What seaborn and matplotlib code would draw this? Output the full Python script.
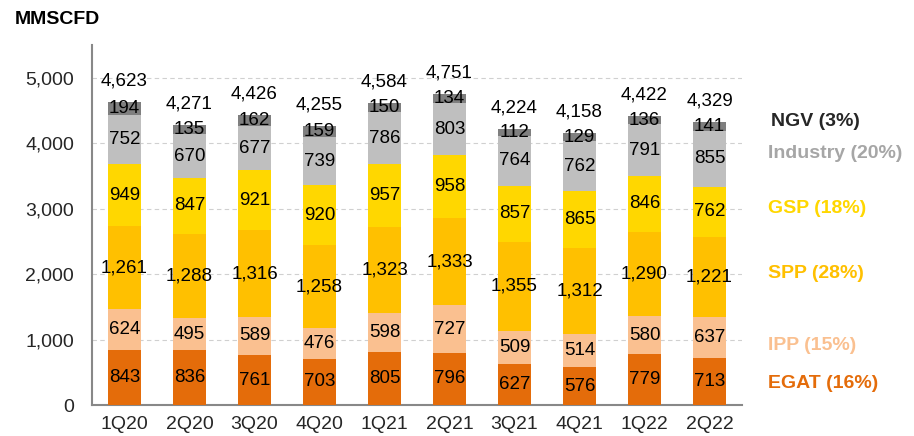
import numpy as np
import pandas as pd
import matplotlib
matplotlib.use("Agg")
import matplotlib.pyplot as plt
import seaborn as sns

quarters = ["1Q20", "2Q20", "3Q20", "4Q20", "1Q21", "2Q21", "3Q21", "4Q21", "1Q22", "2Q22"]
egat = [843, 836, 761, 703, 805, 796, 627, 576, 779, 713]
ipp = [624, 495, 589, 476, 598, 727, 509, 514, 580, 637]
spp = [1261, 1288, 1316, 1258, 1323, 1333, 1355, 1312, 1290, 1221]
gsp = [949, 847, 921, 920, 957, 958, 857, 865, 846, 762]
industry = [752, 670, 677, 739, 786, 803, 764, 762, 791, 855]
ngv = [194, 135, 162, 159, 150, 134, 112, 129, 136, 141]
totals = [4623, 4271, 4426, 4255, 4584, 4751, 4224, 4158, 4422, 4329]

series_names = ["EGAT", "IPP", "SPP", "GSP", "Industry", "NGV"]
series_vals = [egat, ipp, spp, gsp, industry, ngv]
legend_labels = ["EGAT (16%)", "IPP (15%)", "SPP (28%)", "GSP (18%)", "Industry (20%)", "NGV (3%)"]
colors = ["#E46C0A", "#FAC090", "#FFC000", "#FFD700", "#BFBFBF", "#7F7F7F"]
legend_colors = ["#E46C0A", "#FAC090", "#FFC000", "#FFD700", "#A6A6A6", "#262626"]

sns.set_theme(style="white")
plt.rcParams["font.family"] = ["Liberation Sans", "DejaVu Sans"]

fig = plt.figure(figsize=(9.14, 4.36), dpi=100)
ax = fig.add_axes([92 / 914, 31 / 436, 650 / 914, 360 / 436])

vals = np.array(series_vals, dtype=float)
cum = np.cumsum(vals, axis=0)

# draw cumulative bars from the top series down so they stack visually
for i in reversed(range(len(series_names))):
    df = pd.DataFrame({"quarter": quarters, "value": cum[i]})
    sns.barplot(data=df, x="quarter", y="value", order=quarters, color=colors[i],
                saturation=1, width=0.52, ax=ax, errorbar=None, zorder=3,
                linewidth=0, edgecolor="none")

# segment labels
for i in range(len(series_names)):
    for j, q in enumerate(quarters):
        mid = cum[i][j] - vals[i][j] / 2
        ax.text(j, mid, f"{int(vals[i][j]):,}", ha="center", va="center",
                fontsize=13.5, color="black", zorder=5)

# totals
for j, t in enumerate(totals):
    ax.annotate(f"{t:,}", xy=(j, cum[-1][j]), xytext=(0, 21), textcoords="offset pixels",
                ha="center", va="center", fontsize=13.5, color="black", zorder=5)

ax.set_xlim(-0.5, len(quarters) - 0.5)
ax.set_ylim(0, 5500)
ax.set_yticks([0, 1000, 2000, 3000, 4000, 5000])
ax.set_yticklabels([f"{v:,}" for v in [0, 1000, 2000, 3000, 4000, 5000]], fontsize=14)
ax.set_xticks(range(len(quarters)))
ax.set_xticklabels(quarters, fontsize=14)
ax.set_xticks(np.arange(-0.5, len(quarters), 1.0), minor=True)
ax.tick_params(axis="x", which="major", length=0, pad=8)
ax.tick_params(axis="x", which="minor", length=6, width=1.2, color="#888888", direction="out")
ax.tick_params(axis="y", which="major", length=5, width=1.2, color="#888888", direction="out", pad=8)
ax.set_xlabel("")
ax.set_ylabel("")

for y in [1000, 2000, 3000, 4000, 5000]:
    ax.axhline(y, color="#D0D0D0", linewidth=0.8, linestyle=(0, (4, 3)), zorder=1)

sns.despine(ax=ax, top=True, right=True)
for side in ["left", "bottom"]:
    ax.spines[side].set_color("#888888")
    ax.spines[side].set_linewidth(1.5)

fig.text(15 / 914, 1 - 20 / 436, "MMSCFD", fontsize=14, fontweight="bold",
         ha="left", va="center", color="black")

label_y = [383, 345, 273, 208, 153, 122]
for lab, c, y in zip(legend_labels, legend_colors, label_y):
    x = 771 if lab.startswith("NGV") else 768
    fig.text(x / 914, 1 - y / 436, lab, fontsize=14, fontweight="bold",
             ha="left", va="center", color=c)

fig.savefig("out.png", dpi=100)
